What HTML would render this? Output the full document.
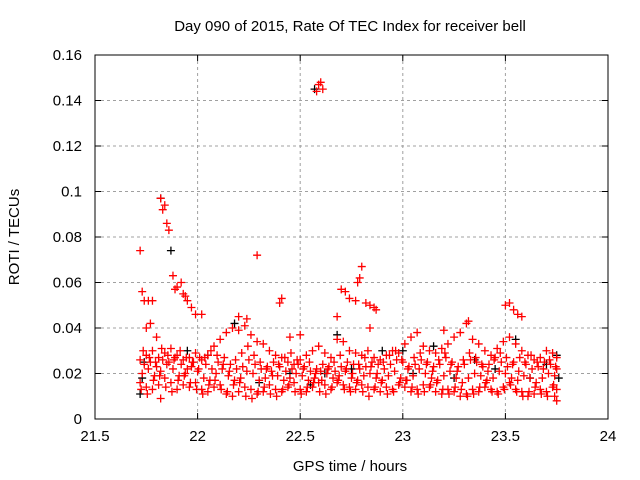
<!DOCTYPE html>
<html><head><meta charset="utf-8"><style>
body{margin:0;background:#fff;}
svg{display:block;font-family:"Liberation Sans",sans-serif;}
</style></head><body>
<svg id="chart" width="640" height="480">
<text x="350" y="31" font-size="15" text-anchor="middle">Day 090 of 2015, Rate Of TEC Index for receiver bell</text>
<text x="350" y="471" font-size="15" text-anchor="middle">GPS time / hours</text>
<text transform="translate(19,237) rotate(-90)" font-size="15" text-anchor="middle">ROTI / TECUs</text>
<g id="grid"></g><g id="ticks"></g><g id="marks"></g>
<rect x="95" y="55" width="513" height="364" fill="none" stroke="#000"/>
</svg>
<script>
const xTicks=[21.5,22,22.5,23,23.5,24];
const xTickLabels=["21.5","22","22.5","23","23.5","24"];
const yTicks=[0,0.02,0.04,0.06,0.08,0.1,0.12,0.14,0.16];
const yTickLabels=["0","0.02","0.04","0.06","0.08","0.1","0.12","0.14","0.16"];
// red series: flat [time, roti*1000] pairs
const redPts=[
21.72,16,21.75,14,21.78,13,21.81,15,21.84,18,21.87,16,21.90,13,21.93,15,21.96,14,21.99,16,22.02,13,22.05,12,22.08,14,22.11,15,22.14,11,22.17,10,22.20,12,22.23,14,22.26,13,22.29,11,22.32,12,22.35,15,22.38,13,22.41,12,22.44,14,22.47,16,22.50,13,22.53,12,22.56,14,22.59,16,22.62,15,22.65,13,22.68,16,22.71,15,22.74,14,22.77,13,22.80,15,22.83,14,22.86,13,22.89,12,22.92,14,22.95,13,22.98,15,23.01,14,23.04,12,23.07,13,23.10,15,23.13,14,23.16,12,23.19,11,23.22,13,23.25,12,23.28,10,23.31,11,23.34,13,23.37,12,23.40,14,23.43,13,23.46,12,23.49,14,23.52,16,23.55,13,23.58,12,23.61,10,23.64,11,23.67,13,23.70,12,23.73,14,23.75,13,
21.73,20,21.76,22,21.79,19,21.82,21,21.85,24,21.88,22,21.91,19,21.94,20,21.97,23,22.00,21,22.03,18,22.06,17,22.09,20,22.12,22,22.15,19,22.18,17,22.21,18,22.24,21,22.27,20,22.30,17,22.33,18,22.36,21,22.39,19,22.42,17,22.45,18,22.48,20,22.51,19,22.54,17,22.57,18,22.60,21,22.63,20,22.66,18,22.69,19,22.72,21,22.75,18,22.78,17,22.81,19,22.84,20,22.87,18,22.90,17,22.93,19,22.96,21,22.99,18,23.02,17,23.05,19,23.08,22,23.11,20,23.14,18,23.17,17,23.20,19,23.23,21,23.26,18,23.29,16,23.32,18,23.35,20,23.38,19,23.41,17,23.44,18,23.47,21,23.50,20,23.53,18,23.56,17,23.59,19,23.62,18,23.65,16,23.68,18,23.71,20,23.74,19,
21.72,26,21.75,28,21.78,30,21.81,27,21.84,29,21.87,31,21.90,28,21.93,26,21.96,27,21.99,29,22.02,26,22.05,28,22.08,32,22.11,35,22.14,38,22.17,40,22.20,39,22.23,41,22.26,37,22.29,34,22.32,33,22.35,30,22.38,28,22.41,27,22.44,25,22.47,24,22.50,26,22.53,28,22.56,30,22.59,32,22.62,29,22.65,27,22.68,35,22.71,34,22.74,30,22.77,29,22.80,28,22.83,30,22.86,27,22.89,26,22.92,28,22.95,30,22.98,29,23.01,33,23.04,36,23.07,38,23.10,32,23.13,30,23.16,29,23.19,31,23.22,33,23.25,36,23.28,38,23.31,42,23.34,35,23.37,33,23.40,30,23.43,28,23.46,31,23.49,34,23.52,36,23.55,33,23.58,30,23.61,28,23.64,26,23.67,27,23.70,30,23.73,29,23.75,27,
21.74,24,21.77,25,21.80,23,21.83,26,21.86,25,21.89,27,21.92,24,21.95,22,21.98,25,22.01,27,22.04,24,22.07,22,22.10,25,22.13,27,22.16,24,22.19,22,22.22,23,22.25,26,22.28,24,22.31,22,22.34,23,22.37,25,22.40,23,22.43,21,22.46,22,22.49,24,22.52,23,22.55,21,22.58,22,22.61,24,22.64,23,22.67,21,22.70,23,22.73,25,22.76,24,22.79,22,22.82,23,22.85,25,22.88,24,22.91,22,22.94,24,22.97,26,23.00,25,23.03,23,23.06,24,23.09,26,23.12,25,23.15,23,23.18,24,23.21,27,23.24,25,23.27,23,23.30,24,23.33,26,23.36,25,23.39,23,23.42,24,23.45,27,23.48,25,23.51,23,23.54,25,23.57,27,23.60,24,23.63,22,23.66,23,23.69,25,23.72,24,23.75,22,
21.735,30,21.765,27,21.795,25,21.825,31,21.855,28,21.885,26,21.915,30,21.945,27,21.975,25,22.005,22,22.035,27,22.065,30,22.095,28,22.125,24,22.155,21,22.185,26,22.215,29,22.245,32,22.275,28,22.305,25,22.335,22,22.365,19,22.395,24,22.425,27,22.455,29,22.485,26,22.515,22,22.545,25,22.575,20,22.605,17,22.635,22,22.665,25,22.695,28,22.725,22,22.755,20,22.785,24,22.815,27,22.845,23,22.875,20,22.905,25,22.935,28,22.965,30,22.995,26,23.025,22,23.055,27,23.085,29,23.115,24,23.145,21,23.175,26,23.205,29,23.235,24,23.265,21,23.295,26,23.325,29,23.355,27,23.385,24,23.415,21,23.445,26,23.475,29,23.505,27,23.535,24,23.565,21,23.595,25,23.625,28,23.655,25,23.685,22,23.715,26,23.745,23,
21.725,13,21.755,11,21.785,17,21.815,19,21.845,14,21.875,12,21.905,17,21.935,19,21.965,16,21.995,13,22.025,11,22.055,15,22.085,17,22.115,13,22.145,12,22.175,15,22.205,16,22.235,10,22.265,9,22.295,12,22.325,14,22.355,11,22.385,10,22.415,13,22.445,15,22.475,12,22.505,11,22.535,14,22.565,16,22.595,12,22.625,11,22.655,14,22.685,17,22.715,13,22.745,12,22.775,16,22.805,12,22.835,10,22.865,14,22.895,16,22.925,11,22.955,12,22.985,16,23.015,17,23.045,14,23.075,11,23.105,12,23.135,15,23.165,16,23.195,13,23.225,11,23.255,14,23.285,13,23.315,10,23.345,11,23.375,14,23.405,16,23.435,12,23.465,11,23.495,13,23.525,15,23.555,12,23.585,10,23.615,12,23.645,14,23.675,11,23.705,10,23.735,15,
21.72,74,21.73,56,21.74,52,21.76,52,21.78,52,21.82,97,21.83,92,21.84,94,21.85,86,21.86,83,21.88,63,21.89,57,21.90,58,21.92,60,21.93,55,21.94,54,21.95,52,21.97,49,21.99,46,22.02,46,21.75,40,21.77,42,21.80,36,21.82,9,22.29,72,22.40,51,22.41,53,22.58,144,22.59,147,22.60,148,22.61,145,22.68,45,22.70,57,22.72,56,22.74,53,22.77,52,22.78,60,22.79,62,22.80,67,22.82,51,22.84,50,22.86,49,22.87,48,22.84,40,23.50,50,23.52,51,23.54,48,23.56,46,23.58,45,23.32,43,23.20,39,23.75,8,23.74,10,22.45,36,22.50,37,22.20,45,22.24,44
];
// black series
const blackPts=[
21.72,11,21.73,18,21.74,25,21.82,97,21.87,74,21.95,30,22.05,28,22.18,42,22.30,16,22.45,20,22.55,15,22.57,145,22.62,20,22.68,37,22.75,22,22.90,30,23.00,30,23.05,20,23.15,32,23.25,18,23.35,26,23.45,22,23.55,35,23.62,18,23.70,24,23.75,28,23.76,18
];
const X0=95,X1=608,Y0=419,Y1=55;
const sx=v=>X0+(v-21.5)/2.5*(X1-X0);
const sy=v=>Y0-v/0.16*(Y0-Y1);
const NS="http://www.w3.org/2000/svg";
const grid=document.getElementById('grid'),ticks=document.getElementById('ticks'),marks=document.getElementById('marks');
function mk(tag,attrs,parent){const e=document.createElementNS(NS,tag);for(const k in attrs)e.setAttribute(k,attrs[k]);parent.appendChild(e);return e;}
xTicks.forEach((t,i)=>{const x=sx(t);
 if(i>0&&i<xTicks.length-1){const g=mk('line',{x1:x,x2:x,y1:Y1,y2:Y0,stroke:'#a0a0a0','stroke-dasharray':'3,3'},grid);
 
 }
 mk('line',{x1:x,x2:x,y1:Y0,y2:Y0-6,stroke:'#000'},ticks);
 mk('line',{x1:x,x2:x,y1:Y1,y2:Y1+6,stroke:'#000'},ticks);
 const tx=mk('text',{x:x,y:Y0+22,'font-size':15,'text-anchor':'middle'},ticks);tx.textContent=xTickLabels[i];
 
 
});
yTicks.forEach((t,i)=>{const y=sy(t);
 if(i>0&&i<yTicks.length-1){const g=mk('line',{x1:X0,x2:X1,y1:y,y2:y,stroke:'#a0a0a0','stroke-dasharray':'3,3'},grid);
 
 }
 mk('line',{x1:X0,x2:X0+6,y1:y,y2:y,stroke:'#000'},ticks);
 mk('line',{x1:X1,x2:X1-6,y1:y,y2:y,stroke:'#000'},ticks);
 const tx=mk('text',{x:X0-13,y:y+5,'font-size':15,'text-anchor':'end'},ticks);tx.textContent=yTickLabels[i];
 
 
});
function plot(arr,color,name){
 for(let i=0;i<arr.length;i+=2){const x=sx(arr[i]),y=sy(arr[i+1]/1000);
  const p=mk('path',{d:`M${x-4},${y}H${x+4}M${x},${y-4}V${y+4}`,stroke:color,'stroke-width':1.3,fill:'none'},marks);
  
  
 }
}
plot(blackPts,'#000','black-point');
plot(redPts,'#ff0000','red-point');
</script>
</body></html>
